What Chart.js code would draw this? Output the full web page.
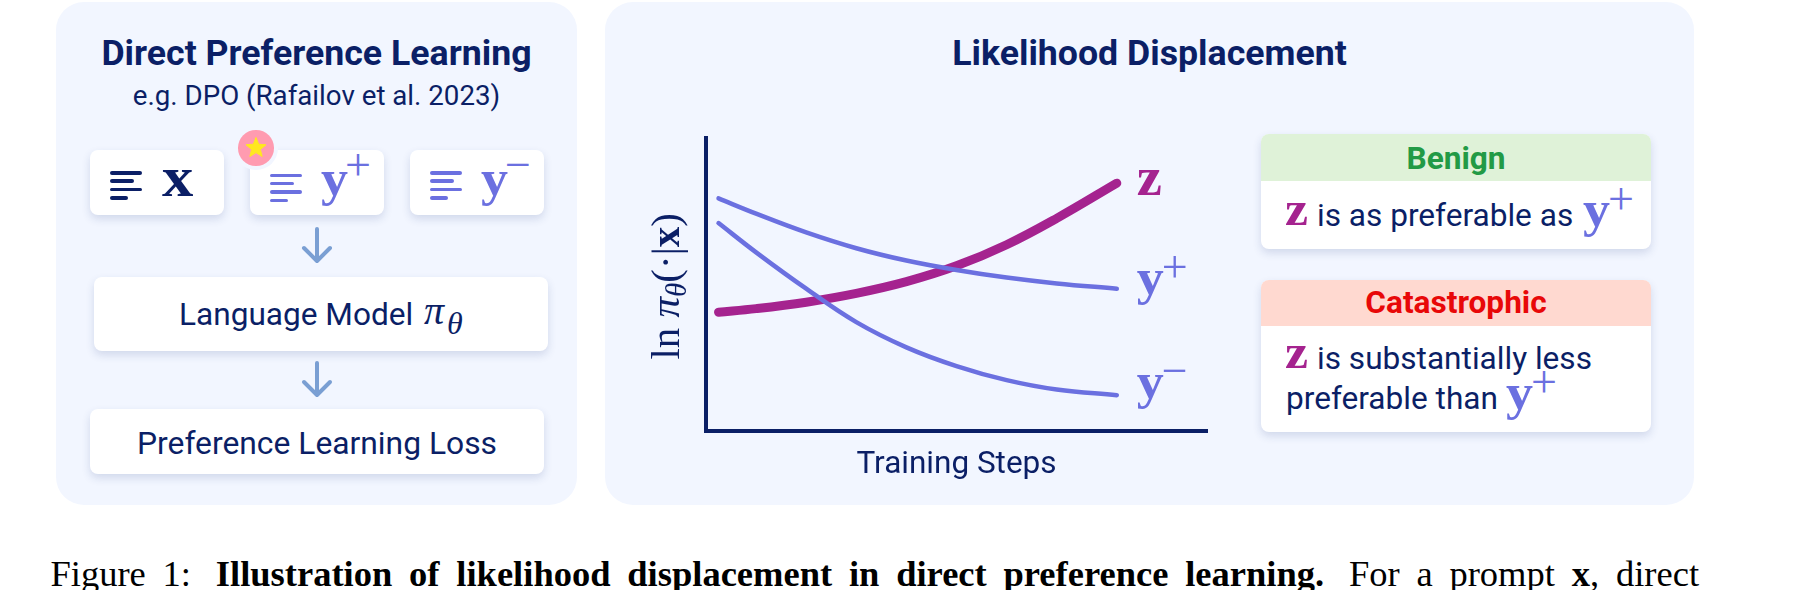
<!DOCTYPE html>
<html>
<head>
<meta charset="utf-8">
<script src="https://cdn.jsdelivr.net/npm/chart.js@4"></script>
<style>
  html, body { margin: 0; padding: 0; background: #fff; }
  body { position: relative; width: 1800px; height: 590px; overflow: hidden; font-family: Roboto, sans-serif; color: #0b1f66; }
  .abs { position: absolute; white-space: nowrap; }
  /* line-height 0 so that top is baseline minus .34em */
  .t { position: absolute; white-space: nowrap; line-height: 0; font-size: 31.6px; }
  .title { font-weight: 700; font-size: 35.7px; text-align: center; }
  .panel { position: absolute; background: #f2f6ff; border-radius: 28px; }
  .card { position: absolute; background: #fff; border-radius: 8px; box-shadow: 0 4px 9px rgba(40, 60, 130, 0.16); overflow: hidden; }
  .head { font-weight: 700; font-size: 31.6px; text-align: center; }
  .math { font-family: "Liberation Serif", serif; font-weight: 700; font-size: 50px; transform: scaleX(1.08); transform-origin: left center; }
  .thin { font-family: "Liberation Serif", serif; font-weight: 400; font-size: 46px; }
  .ital { font-family: "Liberation Serif", serif; font-style: italic; }
  .ico i { position: absolute; left: 0; height: 3.5px; border-radius: 2px; background: currentColor; }
  .blue { color: #6b70e0; }
  .mag { color: #a5238f; }
  canvas { position: absolute; left: 640px; top: 120px; }
  .caption { position: absolute; left: 50.5px; top: 553.7px; width: 1648.5px; font-family: "Liberation Serif", serif; font-size: 36.5px; line-height: 40px; color: #000; text-align: justify; text-align-last: justify; }
  .caption .gap { margin-left: 8px; }
</style>
</head>
<body>
<div class="panel" style="left:56px;top:2px;width:521px;height:503px"></div>
<div class="panel" style="left:605px;top:2px;width:1089px;height:503px"></div>

<div class="t title" style="left:56px;width:521px;top:calc(65px - .34em)">Direct Preference Learning</div>
<div class="t" style="left:56px;width:521px;top:calc(105px - .34em);text-align:center;font-size:27.7px">e.g. DPO (Rafailov et al. 2023)</div>

<div class="card" style="left:90px;top:150px;width:134px;height:65px"></div>
<div class="card" style="left:250px;top:150px;width:134px;height:65px"></div>
<div class="card" style="left:410px;top:150px;width:134px;height:65px"></div>
<div class="card" style="left:94px;top:277px;width:454px;height:74px"></div>
<div class="card" style="left:90px;top:409px;width:454px;height:65px"></div>

<div class="abs ico" style="left:110px;top:171px;color:#0b1f66"><i style="top:0;width:32px"></i><i style="top:8.3px;width:24px"></i><i style="top:16.6px;width:32px"></i><i style="top:25px;width:18px"></i></div>
<div class="abs ico blue" style="left:270px;top:173.5px"><i style="top:0;width:32px"></i><i style="top:8.3px;width:24px"></i><i style="top:16.6px;width:32px"></i><i style="top:25px;width:18px"></i></div>
<div class="abs ico blue" style="left:430px;top:171px"><i style="top:0;width:32px"></i><i style="top:8.3px;width:24px"></i><i style="top:16.6px;width:32px"></i><i style="top:25px;width:18px"></i></div>

<div class="t math" style="left:162px;top:calc(197px - .34em);font-size:58px">x</div>
<div class="t math blue" style="left:321px;top:calc(195px - .34em)">y</div>
<div class="t thin blue" style="left:345px;top:calc(181px - .34em)">+</div>
<div class="t math blue" style="left:481px;top:calc(195px - .34em)">y</div>
<div class="t thin blue" style="left:505px;top:calc(181px - .34em)">−</div>

<div class="abs" style="left:238px;top:130px;width:35.5px;height:35.5px;border-radius:50%;background:#ff9bb0;box-shadow:0 0 0 4px #f2f6ff"></div>
<svg class="abs" style="left:238px;top:130px" width="36" height="36"><polygon fill="#ffe81f" stroke="#ffe81f" stroke-width="1" stroke-linejoin="round" points="18,7.5 20.7,14.28 28,14.75 22.37,19.42 24.17,26.5 18,22.6 11.83,26.5 13.63,19.42 8,14.75 15.3,14.28"/></svg>

<svg class="abs" style="left:296px;top:224px" width="42" height="42" fill="none" stroke="#7a9fd3" stroke-width="4" stroke-linecap="round" stroke-linejoin="round"><path d="M21 5V36M8 24L21 37L34 24"/></svg>
<svg class="abs" style="left:296px;top:358px" width="42" height="42" fill="none" stroke="#7a9fd3" stroke-width="4" stroke-linecap="round" stroke-linejoin="round"><path d="M21 5V36M8 24L21 37L34 24"/></svg>

<div class="t" style="left:179px;top:calc(326px - .34em)">Language Model</div>
<div class="t ital" style="left:424px;top:calc(325px - .34em);font-size:40px">π</div>
<div class="t ital" style="left:447px;top:calc(334px - .34em);font-size:32px">θ</div>
<div class="t" style="left:90px;width:454px;top:calc(453.5px - .34em);text-align:center;font-size:31.8px">Preference Learning Loss</div>

<div class="t title" style="left:605px;width:1089px;top:calc(65px - .34em)">Likelihood Displacement</div>

<div class="card" style="left:1261px;top:134px;width:390px;height:115px"><div style="height:47px;background:#dff2d8"></div></div>
<div class="t head" style="left:1261px;width:390px;top:calc(170px - .34em);color:#229a45">Benign</div>
<div class="t math mag" style="left:1285px;top:calc(225px - .34em);font-size:48px">z</div>
<div class="t" style="left:1317px;top:calc(226.5px - .34em)">is as preferable as</div>
<div class="t math blue" style="left:1583px;top:calc(226px - .34em)">y</div>
<div class="t thin blue" style="left:1608px;top:calc(215px - .34em)">+</div>

<div class="card" style="left:1261px;top:280px;width:390px;height:152px"><div style="height:46px;background:#ffd9d0"></div></div>
<div class="t head" style="left:1261px;width:390px;top:calc(314px - .34em);color:#e80808">Catastrophic</div>
<div class="t math mag" style="left:1285px;top:calc(368px - .34em);font-size:48px">z</div>
<div class="t" style="left:1317px;top:calc(369.5px - .34em)">is substantially less</div>
<div class="t" style="left:1286px;top:calc(409.5px - .34em)">preferable than</div>
<div class="t math blue" style="left:1506px;top:calc(409px - .34em)">y</div>
<div class="t thin blue" style="left:1531px;top:calc(398px - .34em)">+</div>

<div class="caption">Figure 1: <b class="gap">Illustration of likelihood displacement in direct preference learning.</b> <span class="gap">For a prompt</span> <b>x</b>, direct</div>

<canvas id="chart" width="580" height="364" style="width:580px;height:364px"></canvas>

<script>
// training steps on the x axis, log likelihood
const steps = [2.5, 10, 20, 30, 40, 50, 60, 70, 82];
const yPlus = [79.4, 74.2, 67.8, 62.4, 58.2, 55.0, 52.4, 50.4, 48.6];
const yMinus = [71.0, 61.0, 48.6, 37.2, 28.6, 22.2, 17.4, 14.2, 12.3];
const zLine = [40.6, 41.8, 44.0, 47.0, 51.0, 56.4, 63.6, 72.6, 84.6];

const navy = "#0b1f66";
const blue = "#6b70e0";
const magenta = "#a5238f";

function toPoints(values) {
    return values.map((v, i) => ({ x: steps[i], y: v }));
}

// draws text pieces one after the other, used for the math labels
function drawRuns(ctx, runs, x, y) {
    ctx.textAlign = "left";
    ctx.textBaseline = "alphabetic";
    runs.forEach((r) => {
        ctx.font = r.font;
        ctx.fillStyle = r.color;
        ctx.save();
        ctx.translate(x, y + (r.dy || 0));
        ctx.scale(r.sx || 1, 1); // the bold math letters are wider than Liberation
        ctx.fillText(r.text, 0, 0);
        ctx.restore();
        x += ctx.measureText(r.text).width;
    });
}

const mathLabels = {
    id: "mathLabels",
    afterDatasetsDraw(chart) {
        const { ctx, scales, chartArea } = chart;
        const lx = scales.x.getPixelForValue(steps[steps.length - 1]) + 20;
        const bold = '700 50px "Liberation Serif"';
        const thin = '400 46px "Liberation Serif"';

        ctx.save();
        drawRuns(ctx, [{ text: "z", font: '700 55px "Liberation Serif"', color: magenta, sx: 1.03 }],
            lx, scales.y.getPixelForValue(zLine[8]) + 12);
        drawRuns(ctx, [
            { text: "y", font: bold, color: blue, sx: 1.08 },
            { text: "+", font: thin, color: blue, dy: -12 },
        ], lx, scales.y.getPixelForValue(yPlus[8]) + 5);
        drawRuns(ctx, [
            { text: "y", font: bold, color: blue, sx: 1.08 },
            { text: "−", font: thin, color: blue, dy: -12 },
        ], lx, scales.y.getPixelForValue(yMinus[8]) + 3);

        // y axis label, rotated
        ctx.translate(chartArea.left - 27, scales.y.getPixelForValue(49.5));
        ctx.rotate(-Math.PI / 2);
        const serif = '400 41px "Liberation Serif"';
        drawRuns(ctx, [
            { text: "ln ", font: serif, color: navy },
            { text: "π", font: 'italic 400 41px "Liberation Serif"', color: navy },
            { text: "θ", font: 'italic 400 29px "Liberation Serif"', color: navy, dy: 7 },
            { text: "(·|", font: serif, color: navy },
            { text: "x", font: '700 41px "Liberation Serif"', color: navy },
            { text: ")", font: serif, color: navy },
        ], -73.5, 0);
        ctx.restore();
    },
};

new Chart(document.getElementById("chart"), {
    type: "line",
    data: {
        datasets: [
            { label: "y+", data: toPoints(yPlus), borderColor: blue, borderWidth: 4.5 },
            { label: "y-", data: toPoints(yMinus), borderColor: blue, borderWidth: 4.5 },
            { label: "z", data: toPoints(zLine), borderColor: magenta, borderWidth: 9 },
        ],
    },
    options: {
        responsive: false,
        animation: false,
        layout: { padding: { left: 58, right: 13, top: 18, bottom: 0 } },
        datasets: { line: { pointRadius: 0, tension: 0.4, borderCapStyle: "round" } },
        plugins: { legend: { display: false }, tooltip: { enabled: false } },
        scales: {
            x: {
                type: "linear",
                min: 0,
                max: 100,
                grid: { display: false },
                border: { display: true, color: navy, width: 4 },
                ticks: { display: false },
                title: { display: true, text: "Training Steps", color: navy, font: { family: "Roboto", size: 31.5 }, padding: { top: 7, bottom: 0 } },
            },
            y: {
                min: 0,
                max: 100,
                grid: { display: false },
                border: { display: true, color: navy, width: 4 },
                ticks: { display: false },
            },
        },
    },
    plugins: [mathLabels],
});
</script>
</body>
</html>
